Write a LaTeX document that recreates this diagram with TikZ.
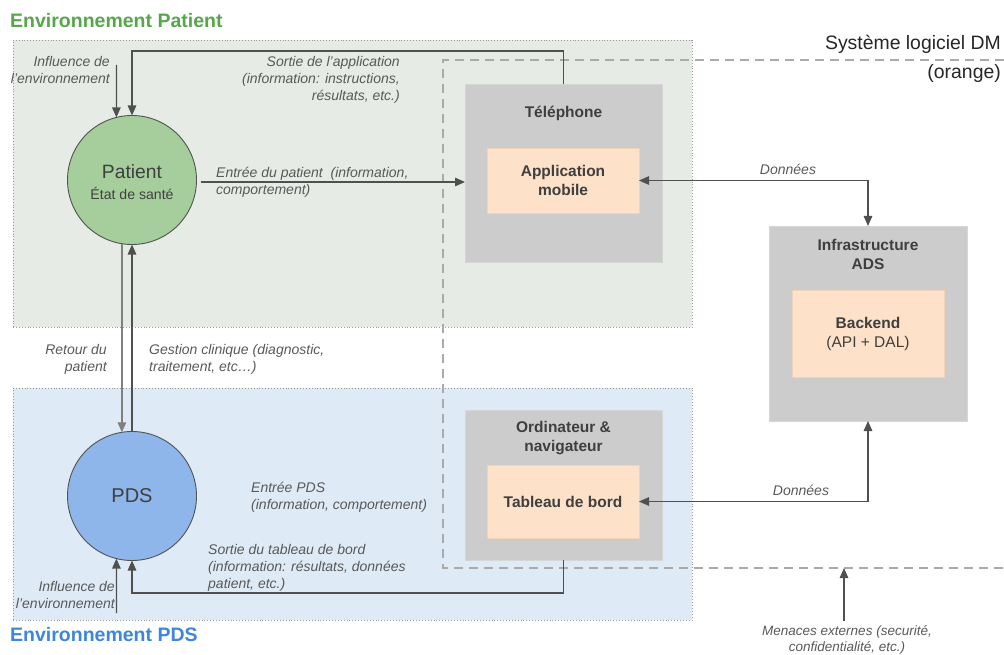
\documentclass[tikz,border=0pt]{standalone}
\usepackage{fontspec}
\setmainfont{Liberation Sans}
\usetikzlibrary{arrows.meta,calc}
\definecolor{envpat}{HTML}{E6EBE6}
\definecolor{envpds}{HTML}{DEEAF6}
\definecolor{boxgray}{HTML}{CCCCCC}
\definecolor{boxgrayb}{HTML}{D6D6D6}
\definecolor{orfill}{HTML}{FDE1C8}
\definecolor{orborder}{HTML}{F0D2B8}
\definecolor{patfill}{HTML}{A6CE9C}
\definecolor{pdsfill}{HTML}{8FB6EA}
\definecolor{titgreen}{HTML}{57A64A}
\definecolor{titblue}{HTML}{3D86D8}
\definecolor{lbl}{HTML}{595959}
\definecolor{dark}{HTML}{3F3F3F}
\definecolor{arrc}{HTML}{505050}
\definecolor{sysc}{HTML}{AAAAAA}
\tikzset{
  envbox/.style={draw=gray!80, dotted, line width=0.9pt, inner sep=0, outer sep=0, anchor=north west},
  graybox/.style={fill=boxgray, draw=boxgrayb, line width=0.8pt, inner sep=0, outer sep=0, anchor=north west},
  orbox/.style={fill=orfill, draw=orborder, line width=0.8pt, inner sep=0, outer sep=0, anchor=north west},
  circ/.style={circle, draw=dark!90, line width=0.9pt, minimum size=129pt, inner sep=0, outer sep=0},
  lab/.style={font=\fontsize{14}{17}\selectfont\itshape, text=lbl, inner sep=0},
  boldlab/.style={font=\fontsize{15.5}{19}\selectfont\bfseries, text=dark, align=center, inner sep=0},
  arr/.style={draw=arrc, line width=1.3pt, -{Triangle[length=10pt,width=8.5pt]}},
  arrtwo/.style={draw=arrc, line width=1.3pt, {Triangle[length=10pt,width=8.5pt]}-{Triangle[length=10pt,width=8.5pt]}},
  sysline/.style={draw=sysc, line width=1.6pt, dash pattern=on 9pt off 6pt},
}
\begin{document}
\begin{tikzpicture}[x=1pt,y=-1pt]
\useasboundingbox (0,0) rectangle (1004,655);
% environments
\node[envbox, fill=envpat, minimum width=679pt, minimum height=287pt] (envp) at (13,40) {};
\node[envbox, fill=envpds, minimum width=679pt, minimum height=232pt] (envd) at (13,388) {};
\node[anchor=west, inner sep=0, text=titgreen, font=\fontsize{19.5}{22}\selectfont\bfseries] (tpat) at (10,21) {Environnement Patient};
\node[anchor=west, inner sep=0, text=titblue, font=\fontsize{19.5}{22}\selectfont\bfseries] (tpds) at (10,635) {Environnement PDS};
% system boundary
\coordinate (s1) at (1004,60);
\coordinate (s2) at (443,60);
\coordinate (s3) at (443,568);
\coordinate (s4) at (1004,568);
\draw[sysline] (s1) -- (s2) -- (s3) -- (s4);
\node[anchor=east, inner sep=0, text=black!85, font=\fontsize{19.4}{22}\selectfont] (sys1) at (1001,44) {Système logiciel DM};
\node[anchor=east, inner sep=0, text=black!85, font=\fontsize{19.4}{22}\selectfont] (sys2) at (1001,73) {(orange)};
% boxes
\node[graybox, minimum width=197pt, minimum height=178pt] (tel) at (465,84) {};
\node[boldlab] (telt) at (563.5,113) {Téléphone};
\node[orbox, minimum width=152pt, minimum height=65pt] (app) at (487,148) {};
\node[boldlab] (appt) at (563,180) {Application\\mobile};
\node[graybox, minimum width=198pt, minimum height=195pt] (infra) at (769,226) {};
\node[boldlab] (infrat) at (868,254.5) {Infrastructure\\ADS};
\node[orbox, minimum width=152pt, minimum height=87pt] (back) at (792,290) {};
\node[boldlab] (backt) at (868,334) {Backend\\\mdseries(API + DAL)};
\node[graybox, minimum width=197pt, minimum height=150pt] (ord) at (465,410) {};
\node[boldlab] (ordt) at (563.5,438) {Ordinateur \&\\navigateur};
\node[orbox, minimum width=152pt, minimum height=73pt] (tab) at (487,465) {};
\node[boldlab] (tabt) at (563,502) {Tableau de bord};
% circles
\node[circ, fill=patfill] (pat) at (132,180) {};
\node[inner sep=0, text=dark, font=\fontsize{19.3}{22}\selectfont] (patt) at (132,172) {Patient};
\node[inner sep=0, text=dark, font=\fontsize{14.1}{17}\selectfont] (pats) at (132,193) {État de santé};
\node[circ, fill=pdsfill] (pds) at (132,496) {};
\node[inner sep=0, text=dark, font=\fontsize{20}{22}\selectfont] (pdst) at (132,496) {PDS};
% connectors
\coordinate (inf1) at (116.4,65);
\draw[arr] (inf1) -- (pat.104);
\draw[arr] (tel.north) -- ++(0,-33) -| (pat.north);
\draw[arr] ($(pat.east)+(4,2)$) -- ($(tel.west)+(0,9)$);
\draw[arrtwo] (app.east) -| (infra.north);
\draw[arrtwo] (tab.east) -| (infra.south);
\draw[arr, draw=black!50] (pat.261) -- (pds.99);
\draw[arr] (pds.north) -- (pat.south);
\draw[arr] (ord.south) -- ++(0,33) -| (pds.south);
\coordinate (inf2) at (116.5,613);
\draw[arr] (inf2) -- (pds.256);
\coordinate (men) at (844,621);
\coordinate (menb) at (844,568);
\draw[arr] (men) -- (menb);
% labels
\node[lab, anchor=north east, align=right] (l1) at (110,56.5) {Influence de\\l’environnement};
\node[lab, anchor=north east, align=right] (l2) at (400,56.5) {Sortie de l’application\\(information: instructions,\\résultats, etc.)};
\node[lab, anchor=north west, align=left] (l3) at (216,166.5) {Entrée du patient\ \ (information,\\comportement)};
\node[lab, anchor=north east, align=right] (l4) at (107,344.5) {Retour du\\patient};
\node[lab, anchor=north west, align=left] (l5) at (149,344.5) {Gestion clinique (diagnostic,\\traitement, etc…)};
\node[lab, anchor=north west, align=left] (l6) at (251,481.5) {Entrée PDS\\(information, comportement)};
\node[lab, anchor=north west, align=left] (l7) at (208,544.5) {Sortie du tableau de bord\\(information: résultats, données\\patient, etc.)};
\node[lab, anchor=north east, align=right] (l8) at (115,581.5) {Influence de\\l’environnement};
\node[lab, anchor=north, align=center, font=\fontsize{13.5}{15.5}\selectfont\itshape] (l9) at (847,625.5) {Menaces externes (securité,\\confidentialité, etc.)};
\node[lab] (d1) at (788,169) {Données};
\node[lab] (d2) at (801,490) {Données};
\end{tikzpicture}
\end{document}
